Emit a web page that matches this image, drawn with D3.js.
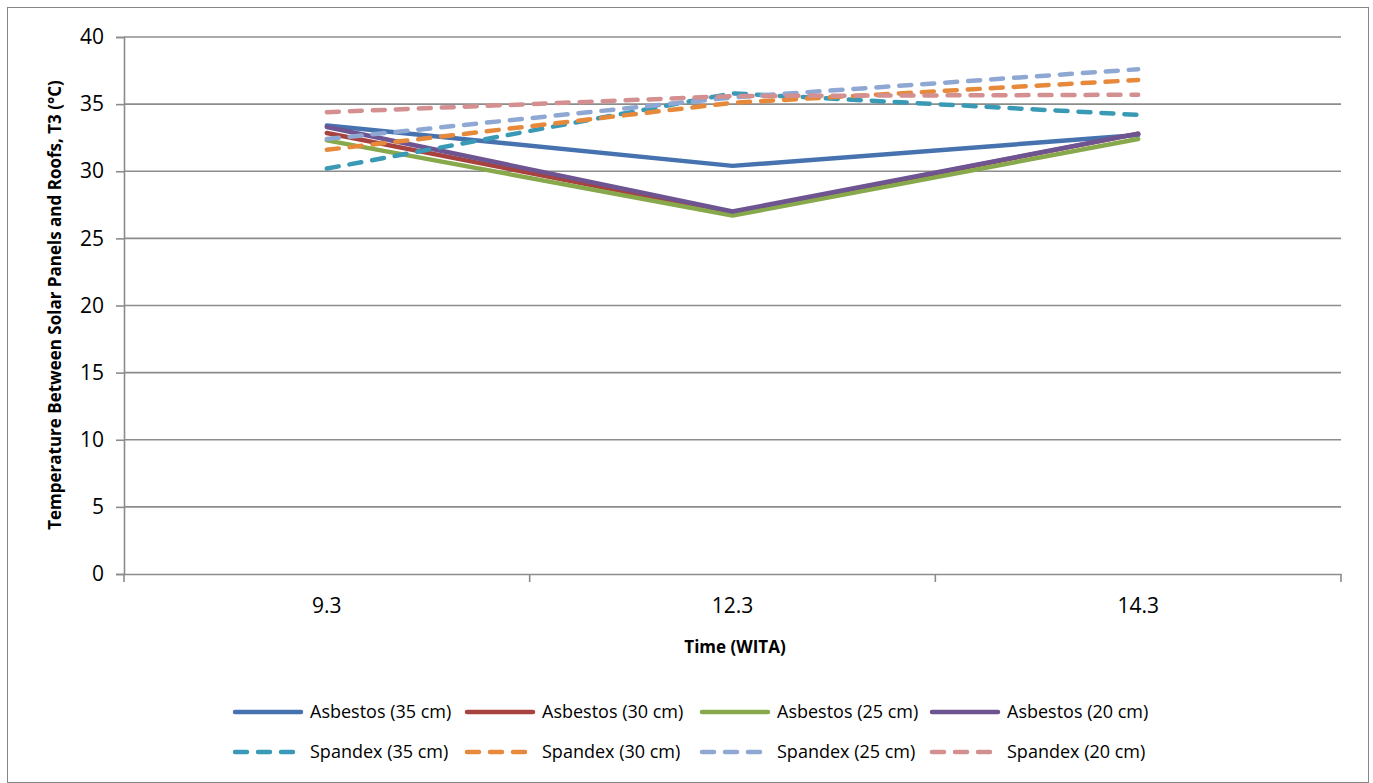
<!DOCTYPE html>
<html><head><meta charset="utf-8">
<script src="https://cdn.jsdelivr.net/npm/d3@7"></script>
<style>body{margin:0;background:#fff;}svg{display:block;font-family:"Open Sans",sans-serif;}</style>
</head><body>
<svg id="c" width="1373" height="783"></svg>
<script>
const categories = ["9.3","12.3","14.3"];
const seriesNames = ["Asbestos (35 cm)","Asbestos (30 cm)","Asbestos (25 cm)","Asbestos (20 cm)","Spandex (35 cm)","Spandex (30 cm)","Spandex (25 cm)","Spandex (20 cm)"];
const asbestos35 = [33.4, 30.4, 32.7];
const asbestos30 = [32.85, 26.9, 32.8];
const asbestos25 = [32.3, 26.7, 32.4];
const asbestos20 = [33.3, 27.0, 32.8];
const spandex35 = [30.2, 35.8, 34.2];
const spandex30 = [31.6, 35.1, 36.8];
const spandex25 = [32.4, 35.5, 37.6];
const spandex20 = [34.4, 35.6, 35.7];
const yTicks = [0,5,10,15,20,25,30,35,40];
const colors = ["#4672AF","#A8423F","#88A84C","#6E5591","#3A9AB5","#E6893B","#8EA8D3","#D49090"];
const dashed = [false,false,false,false,true,true,true,true];
const allValues = [asbestos35,asbestos30,asbestos25,asbestos20,spandex35,spandex30,spandex25,spandex20];
const FONT = "'Open Sans',sans-serif";

const svg = d3.select("#c");
svg.append("rect").attr("x",7.5).attr("y",7.5).attr("width",1361).attr("height",775).attr("fill","#fff").attr("stroke","#868686").attr("stroke-width",1);

const L=124, R=1341, T=37, B=574;
const x = d3.scaleBand().domain(categories).range([L,R]);
const y = d3.scaleLinear().domain([0,40]).range([B,T]);

// gridlines
svg.append("g").selectAll("line").data(yTicks.filter(d=>d>0)).join("line")
  .attr("x1",L).attr("x2",R).attr("y1",d=>y(d)).attr("y2",d=>y(d))
  .attr("stroke","#8c8c8c").attr("stroke-width",1.6);

// y axis
const ya = svg.append("g").attr("transform",`translate(${L},0)`)
  .call(d3.axisLeft(y).tickValues(yTicks).tickSize(8).tickPadding(12));
ya.attr("font-family",FONT);
ya.select(".domain").attr("stroke","#8c8c8c").attr("stroke-width",1.6);
ya.selectAll(".tick line").attr("stroke","#8c8c8c").attr("stroke-width",1.6);
ya.selectAll("text").attr("font-size",21).attr("fill","#000");

// x axis
const xa = svg.append("g").attr("transform",`translate(0,${B})`)
  .call(d3.axisBottom(x).tickSize(0).tickPadding(24));
xa.attr("font-family",FONT);
xa.select(".domain").attr("stroke","#8c8c8c").attr("stroke-width",1.6);
xa.selectAll("text").attr("font-size",21).attr("fill","#000");
const bounds = [...categories.map(c=>x(c)), R];
svg.append("g").selectAll("line").data(bounds).join("line")
  .attr("x1",d=>d).attr("x2",d=>d).attr("y1",B).attr("y2",B+8)
  .attr("stroke","#8c8c8c").attr("stroke-width",1.6);

// axis titles
svg.append("text").attr("x",735).attr("y",653).attr("text-anchor","middle")
  .attr("font-size",17).attr("font-weight","bold").text("Time (WITA)");
svg.append("text").attr("transform","translate(61,305) rotate(-90)").attr("text-anchor","middle")
  .attr("font-size",17).attr("font-weight","bold").text("Temperature Between Solar Panels and Roofs, T3 (°C)");

// lines
const line = d3.line().x((d,i)=>x(categories[i])+x.bandwidth()/2).y(d=>y(d));
allValues.forEach((vals,i)=>{
  svg.append("path").datum(vals).attr("d",line).attr("fill","none")
    .attr("stroke",colors[i]).attr("stroke-width",4.5)
    .attr("stroke-linecap","round").attr("stroke-linejoin","round")
    .attr("stroke-dasharray",dashed[i]?"12,11":null);
});

// legend
const colX = [233,465,700,930];
const rowY = [712,752];
seriesNames.forEach((n,i)=>{
  const cx = colX[i%4], cy = rowY[Math.floor(i/4)];
  svg.append("line").attr("x1",cx+2).attr("x2",cx+68).attr("y1",cy).attr("y2",cy)
    .attr("stroke",colors[i]).attr("stroke-width",4.5).attr("stroke-linecap","round")
    .attr("stroke-dasharray",dashed[i]?"12,11":null);
  svg.append("text").attr("x",cx+77).attr("y",cy+6).attr("font-size",18).text(n);
});
</script>
</body></html>
